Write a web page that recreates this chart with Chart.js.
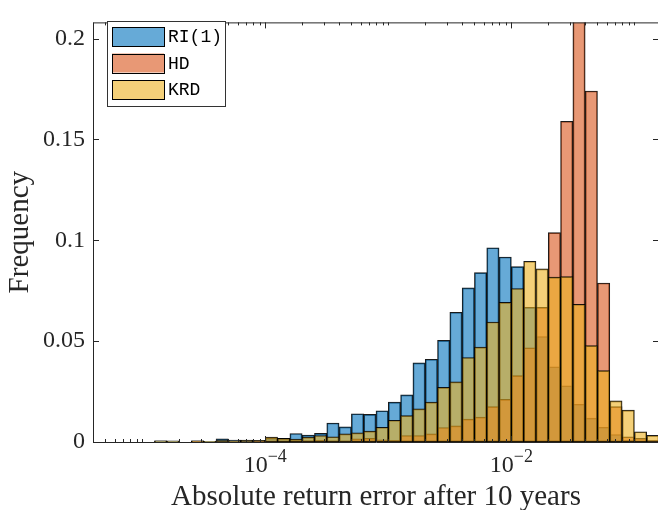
<!DOCTYPE html>
<html>
<head>
<meta charset="utf-8">
<script src="https://cdn.jsdelivr.net/npm/chart.js@4.4.1/dist/chart.umd.min.js"></script>
<style>
  html, body { margin: 0; padding: 0; background: #fff; overflow: hidden; }
  #cadre { position: relative; width: 662px; height: 510px; }
</style>
</head>
<body>
<div id="cadre"><canvas id="histo"></canvas></div>
<script>
// ------------------------------------------
// Histogrammes de l'erreur absolue (axe x en log10, classes de 0.1 décade)
// ------------------------------------------

// centres des classes, en log10 de l'erreur
const binCentres = [
    -4.85, -4.75, -4.65, -4.55, -4.45, -4.35, -4.25, -4.15, -4.05, -3.95,
    -3.85, -3.75, -3.65, -3.55, -3.45, -3.35, -3.25, -3.15, -3.05, -2.95,
    -2.85, -2.75, -2.65, -2.55, -2.45, -2.35, -2.25, -2.15, -2.05, -1.95,
    -1.85, -1.75, -1.65, -1.55, -1.45, -1.35, -1.25, -1.15, -1.05, -0.95,
    -0.85
];

const freqRI = [
    0.0006, 0.0006, 0, 0.0006, 0.0003, 0.0016, 0.0010, 0.0010, 0.0008, 0.0018,
    0.0018, 0.0042, 0.0034, 0.0043, 0.0094, 0.0075, 0.0140, 0.0137, 0.0155, 0.0198,
    0.0234, 0.0392, 0.0410, 0.0504, 0.0643, 0.0764, 0.0840, 0.0963, 0.0917, 0.0869,
    0.0667, 0.0523, 0.0373, 0.0279, 0.0187, 0.0118, 0.0073, 0.0037, 0.0010, 0.0003,
    0
];

const freqHD = [
    0, 0, 0, 0.0003, 0, 0, 0, 0, 0.0003, 0.0003,
    0.0005, 0.0005, 0.0006, 0.0008, 0.0005, 0.0005, 0.0016, 0.0018, 0.0011, 0.0008,
    0.0032, 0.0032, 0.0040, 0.0072, 0.0080, 0.0113, 0.0123, 0.0175, 0.0211, 0.0329,
    0.0467, 0.0667, 0.1038, 0.1590, 0.2150, 0.1740, 0.0788, 0.0175, 0.0026, 0.0018,
    0.0008
];

const freqKRD = [
    0.0006, 0.0003, 0, 0.0006, 0.0003, 0.0008, 0.0006, 0.0008, 0.0008, 0.0024,
    0.0018, 0.0014, 0.0024, 0.0032, 0.0026, 0.0040, 0.0045, 0.0054, 0.0073, 0.0108,
    0.0131, 0.0164, 0.0198, 0.0271, 0.0298, 0.0419, 0.0470, 0.0595, 0.0692, 0.0761,
    0.0896, 0.0858, 0.0817, 0.0820, 0.0683, 0.0478, 0.0354, 0.0204, 0.0158, 0.0051,
    0.0033
];

const seriesNames = ["RI(1)", "HD", "KRD"];
const yTicks = [0, 0.05, 0.1, 0.15, 0.2];
const xTickExponents = [-4, -2];

const AXE = "#262626";
const SERIF = "'Liberation Serif', 'Times New Roman', serif";
const MONO = "'Liberation Mono', 'DejaVu Sans Mono', monospace";

function points(valeurs) {
    return binCentres.map((c, i) => ({ x: c, y: valeurs[i] }));
}

// ------------------------------------------
// Cadre, graduations intérieures, titres et légende
// ------------------------------------------
const habillage = {
    id: "habillage",
    afterDraw(chart) {
        const { ctx, chartArea: a, scales: { x, y } } = chart;
        ctx.save();
        ctx.strokeStyle = AXE;
        ctx.lineWidth = 1;

        // cadre (le bord droit sort du canevas)
        ctx.beginPath();
        ctx.moveTo(a.left + 0.5, a.bottom + 0.5);
        ctx.lineTo(a.left + 0.5, a.top + 0.5);
        ctx.lineTo(a.right + 0.5, a.top + 0.5);
        ctx.moveTo(a.left + 0.5, a.bottom + 0.5);
        ctx.lineTo(a.right + 0.5, a.bottom + 0.5);
        ctx.stroke();

        // graduations x : décades et sous-graduations
        ctx.beginPath();
        for (let n = -6; n <= 0; n++) {
            for (let k = 1; k <= 9; k++) {
                const v = n + Math.log10(k);
                if (v <= x.min || v >= x.max) continue;
                const px = Math.round(x.getPixelForValue(v)) + 0.5;
                const long = (k === 1 && xTickExponents.includes(n)) ? 6 : 3;
                ctx.moveTo(px, a.bottom);
                ctx.lineTo(px, a.bottom - long);
                ctx.moveTo(px, a.top);
                ctx.lineTo(px, a.top + long);
            }
        }
        // graduations y, à gauche et à droite
        yTicks.forEach(v => {
            const py = Math.round(y.getPixelForValue(v)) + 0.5;
            ctx.moveTo(a.left, py);
            ctx.lineTo(a.left + 6, py);
            ctx.moveTo(a.right - 6, py);
            ctx.lineTo(a.right, py);
        });
        ctx.stroke();

        // étiquettes x : 10^n
        ctx.fillStyle = AXE;
        ctx.textBaseline = "alphabetic";
        ctx.textAlign = "left";
        xTickExponents.forEach(n => {
            const px = x.getPixelForValue(n);
            const base = "10";
            const expo = "\u2212" + Math.abs(n);
            ctx.font = "24px " + SERIF;
            const lb = ctx.measureText(base).width;
            ctx.font = "18px " + SERIF;
            const le = ctx.measureText(expo).width;
            const x0 = px - (lb + le) / 2;
            ctx.font = "24px " + SERIF;
            ctx.fillText(base, x0, 472);
            ctx.font = "18px " + SERIF;
            ctx.fillText(expo, x0 + lb, 462);
        });

        // titres des axes
        ctx.font = "29px " + SERIF;
        ctx.textAlign = "center";
        ctx.fillText("Absolute return error after 10 years", (a.left + a.right) / 2, 505);
        ctx.save();
        ctx.translate(28, (a.top + a.bottom) / 2);
        ctx.rotate(-Math.PI / 2);
        ctx.fillText("Frequency", 0, 0);
        ctx.restore();

        // légende encadrée en haut à gauche
        ctx.fillStyle = "#fff";
        ctx.fillRect(107, 21, 118, 85);
        ctx.strokeStyle = "#333";
        ctx.strokeRect(107.5, 21.5, 118, 85);
        ctx.font = "18px " + MONO;
        ctx.textAlign = "left";
        ctx.textBaseline = "middle";
        chart.data.datasets.forEach((ds, i) => {
            const top = 27 + i * 26.5;
            ctx.fillStyle = ds.backgroundColor;
            ctx.fillRect(112, top, 52, 19);
            ctx.strokeStyle = "#000";
            ctx.strokeRect(112.5, Math.round(top) + 0.5, 52, 19);
            ctx.fillStyle = "#000";
            ctx.fillText(ds.label, 168, top + 10.5);
        });
        ctx.restore();
    }
};

new Chart(document.getElementById("histo"), {

    type: "bar",

    data: {
        datasets: [
            {
                label: seriesNames[0],
                data: points(freqRI),
                backgroundColor: "rgba(0,114,189,0.6)",
                order: 3
            },
            {
                label: seriesNames[1],
                data: points(freqHD),
                backgroundColor: "rgba(217,83,25,0.6)",
                order: 2
            },
            {
                label: seriesNames[2],
                data: points(freqKRD),
                backgroundColor: "rgba(237,177,32,0.6)",
                order: 1
            }
        ]
    },

    options: {
        responsive: true,
        maintainAspectRatio: false,
        animation: false,
        layout: { padding: { top: 7, right: 3, left: 0, bottom: 0 } },
        datasets: {
            bar: {
                grouped: false,
                barPercentage: 1,
                categoryPercentage: 1,
                borderWidth: 1,
                borderColor: "rgba(0,0,0,0.9)",
                borderSkipped: false,
                clip: 0
            }
        },
        plugins: {
            legend: { display: false },
            tooltip: { enabled: false }
        },
        scales: {
            x: {
                type: "linear",
                min: -5.4,
                max: -0.8,
                offset: false,
                grid: { display: false },
                border: { display: false },
                ticks: { display: false },
                afterFit: s => { s.height = 68; }
            },
            y: {
                min: 0,
                max: 0.208,
                grid: { display: false, drawTicks: false },
                border: { display: false },
                ticks: {
                    color: AXE,
                    padding: 8,
                    font: { family: SERIF, size: 24 },
                    callback: v => String(v)
                },
                afterBuildTicks: s => { s.ticks = yTicks.map(v => ({ value: v })); },
                afterFit: s => { s.width = 93; }
            }
        }
    },

    plugins: [habillage]
});
</script>
</body>
</html>
